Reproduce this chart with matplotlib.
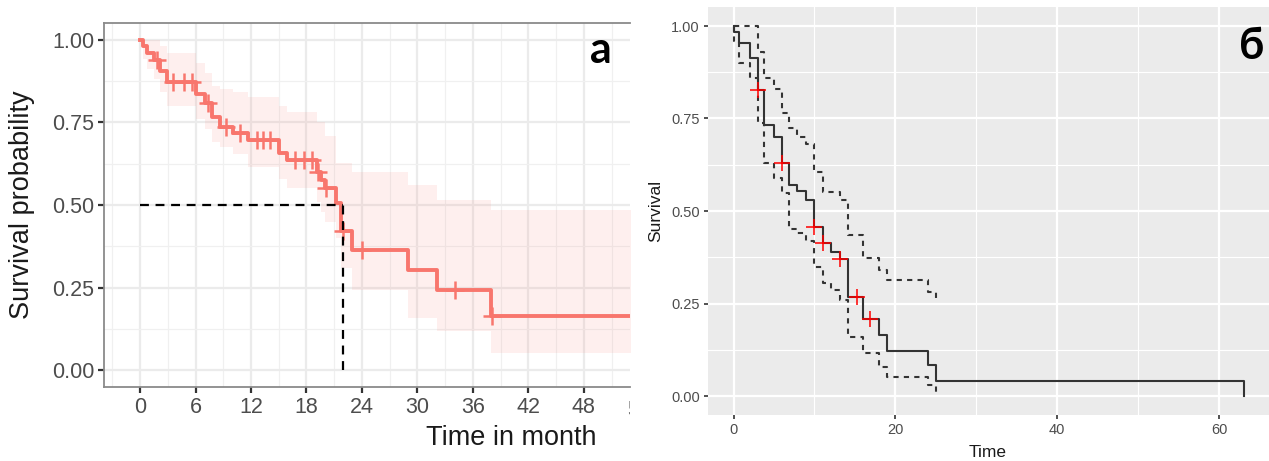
import numpy as np
import matplotlib
matplotlib.use("Agg")
import matplotlib.pyplot as plt
from matplotlib.transforms import Bbox, TransformedBbox

plt.rcParams['font.family'] = ['Liberation Sans', 'DejaVu Sans']

# ---------------- data: panel a ----------------
left_times = [0, 0.3, 0.8, 1.5, 2.2, 2.9, 6.0, 7.0, 7.75, 8.6, 10.1, 11.7, 15.0, 15.9,
              19.1, 19.6, 20.0, 21.2, 21.7, 22.9, 29.0, 32.1, 38.0]
left_surv = [1.0, 0.98, 0.96, 0.937, 0.906, 0.873, 0.834, 0.807, 0.766, 0.735, 0.717, 0.696,
             0.657, 0.636, 0.60, 0.575, 0.55, 0.507, 0.42, 0.364, 0.304, 0.244, 0.164]
left_upper = [1.0, 1.0, 1.0, 1.0, 0.98, 0.96, 0.93, 0.90, 0.86, 0.85, 0.84, 0.825, 0.80, 0.78,
              0.75, 0.75, 0.71, 0.626, 0.626, 0.60, 0.56, 0.515, 0.485]
left_lower = [1.0, 0.94, 0.91, 0.88, 0.84, 0.80, 0.76, 0.73, 0.69, 0.675, 0.655, 0.615, 0.58,
              0.55, 0.51, 0.48, 0.45, 0.40, 0.31, 0.244, 0.16, 0.118, 0.054]
left_censor = [1.8, 3.6, 4.7, 5.6, 7.3, 9.3, 10.8, 12.6, 13.3, 14.1, 16.8, 17.7, 18.6,
               19.3, 20.1, 22.0, 24.0, 34.1, 38.1]
median_time = 22.0
left_xticks = [0, 6, 12, 18, 24, 30, 36, 42, 48]
left_yticks = [0.0, 0.25, 0.5, 0.75, 1.0]

# ---------------- data: panel б ----------------
right_times = [0, 0.1, 0.66, 2.0, 3.0, 3.8, 5.0, 6.0, 6.9, 7.9, 9.0, 10.0, 11.0, 12.1, 13.1,
               14.1, 16.0, 18.0, 19.0, 24.0, 25.0, 63.0]
right_surv = [1.0, 0.985, 0.953, 0.913, 0.827, 0.732, 0.70, 0.629, 0.57, 0.555, 0.53, 0.457,
              0.413, 0.39, 0.369, 0.267, 0.207, 0.165, 0.122, 0.084, 0.041, 0.0]
right_upper = [1.0, 1.0, 1.0, 1.0, 0.93, 0.86, 0.83, 0.765, 0.724, 0.70, 0.68, 0.606, 0.55,
               0.55, 0.53, 0.435, 0.373, 0.34, 0.313, 0.282, 0.265]
right_lower = [1.0, 0.96, 0.90, 0.86, 0.737, 0.63, 0.59, 0.548, 0.45, 0.44, 0.42, 0.35, 0.305,
               0.286, 0.26, 0.16, 0.115, 0.079, 0.052, 0.03, 0.012]
right_censor = [3.0, 6.0, 10.0, 11.0, 13.1, 15.3, 16.9]
right_xticks = [0, 20, 40, 60]
right_yticks = [0.0, 0.25, 0.5, 0.75, 1.0]

W, H = 1269, 461
fig = plt.figure(figsize=(W / 100, H / 100), dpi=100)

def surv_at(times, surv, t):
    idx = np.searchsorted(times, t, side='right') - 1
    return np.asarray(surv)[idx]

# ================= panel a =================
ax1 = fig.add_axes([104 / W, 1 - 387 / H, (630 - 104) / W, (387 - 23) / H])
xmin1, xmax1 = -3.9, 53.0
ax1.set_xlim(xmin1, xmax1)
ax1.set_ylim(-0.05, 1.05)
ax1.set_facecolor('white')

for x in np.arange(-3, 60, 6):
    ax1.axvline(x, color='#F0F0F0', lw=0.9, zorder=0)
for x in np.arange(0, 60, 6):
    ax1.axvline(x, color='#EBEBEB', lw=1.6, zorder=0)
for y in [0.125, 0.375, 0.625, 0.875]:
    ax1.axhline(y, color='#F0F0F0', lw=0.9, zorder=0)
for y in left_yticks:
    ax1.axhline(y, color='#EBEBEB', lw=1.6, zorder=0)

lt = np.append(left_times, 60)
ax1.fill_between(lt, np.append(left_lower, left_lower[-1]), np.append(left_upper, left_upper[-1]),
                 step='post', color='#F8766D', alpha=0.11, lw=0, zorder=1)
ax1.step(lt, np.append(left_surv, left_surv[-1]), where='post', color='#F8766D', lw=2.8, zorder=3)
ax1.plot(left_censor, surv_at(left_times, left_surv, left_censor), ls='none', marker='+',
         ms=13, mew=1.8, color='#F8766D', zorder=4)
ax1.plot([0, median_time], [0.5, 0.5], color='black', ls=(0, (4, 3)), lw=1.6, zorder=5)
ax1.plot([median_time, median_time], [0, 0.5], color='black', ls=(0, (4, 3)), lw=1.6, zorder=5)

ax1.set_xticks(left_xticks)
ax1.set_yticks(left_yticks)
ax1.set_yticklabels(['0.00', '0.25', '0.50', '0.75', '1.00'])
ax1.tick_params(axis='both', length=4, width=1.6, color='#333333', labelsize=15.5,
                labelcolor='#4D4D4D', pad=3)
for s in ['top', 'left', 'bottom']:
    ax1.spines[s].set_color('#8A8A8A')
    ax1.spines[s].set_linewidth(1.3)
ax1.spines['right'].set_visible(False)

# clipped "54" tick label at the cropped edge
x54 = ax1.transData.transform((54, 0))[0]
t54 = fig.text(x54 / W, 1 - 410 / H, '54', fontsize=15.5, color='#4D4D4D', ha='center', va='center')
t54.set_clip_box(TransformedBbox(Bbox([[0, 0], [630 / W, 1]]), fig.transFigure))
t54.set_clip_on(True)

fig.text(22 / W, 1 - 205 / H, 'Survival probability', rotation=90, fontsize=19.5,
         ha='center', va='center', color='#1A1A1A')
fig.text(511 / W, 1 - 438 / H, 'Time in month', fontsize=19.5, ha='center', va='center',
         color='#1A1A1A')
fig.text(601 / W, 1 - 50 / H, 'а', fontsize=31, fontweight='bold', ha='center', va='center',
         family=['Lato', 'DejaVu Sans'])

# ================= panel б =================
ax2 = fig.add_axes([708 / W, 1 - 414.5 / H, (1269 - 708) / W, (414.5 - 7.5) / H])
ax2.set_xlim(-3.15, 66.15)
ax2.set_ylim(-0.05, 1.05)
ax2.set_facecolor('#EBEBEB')
for x in [10, 30, 50]:
    ax2.axvline(x, color='white', lw=0.8, zorder=0)
for x in right_xticks:
    ax2.axvline(x, color='white', lw=1.6, zorder=0)
for y in [0.125, 0.375, 0.625, 0.875]:
    ax2.axhline(y, color='white', lw=0.8, zorder=0)
for y in right_yticks:
    ax2.axhline(y, color='white', lw=1.6, zorder=0)

n_ci = len(right_upper)
ax2.step(right_times[:n_ci], right_upper, where='post', color='#333333', lw=1.5,
         ls=(0, (2.5, 2.5)), zorder=2)
ax2.step(right_times[:n_ci], right_lower, where='post', color='#333333', lw=1.5,
         ls=(0, (2.5, 2.5)), zorder=2)
ax2.step(right_times, right_surv, where='post', color='#333333', lw=1.5, zorder=3)
ax2.plot(right_censor, surv_at(right_times, right_surv, right_censor), ls='none', marker='+',
         ms=11, mew=1.1, color='#FF0000', zorder=4)

ax2.set_xticks(right_xticks)
ax2.set_yticks(right_yticks)
ax2.set_yticklabels(['0.00', '0.25', '0.50', '0.75', '1.00'])
ax2.tick_params(axis='both', length=3, width=1.2, color='#333333', labelsize=10.5,
                labelcolor='#4D4D4D', pad=3)
for s in ax2.spines.values():
    s.set_visible(False)

fig.text(988 / W, 1 - 452 / H, 'Time', fontsize=12.5, ha='center', va='center', color='#1A1A1A')
fig.text(656 / W, 1 - 211 / H, 'Survival', rotation=90, fontsize=12.5, ha='center', va='center',
         color='#1A1A1A')
fig.text(1252 / W, 1 - 46 / H, 'б', fontsize=31, fontweight='bold', ha='center', va='center',
         family=['Lato', 'DejaVu Sans'])

fig.savefig('out.png', dpi=100, facecolor='white')
